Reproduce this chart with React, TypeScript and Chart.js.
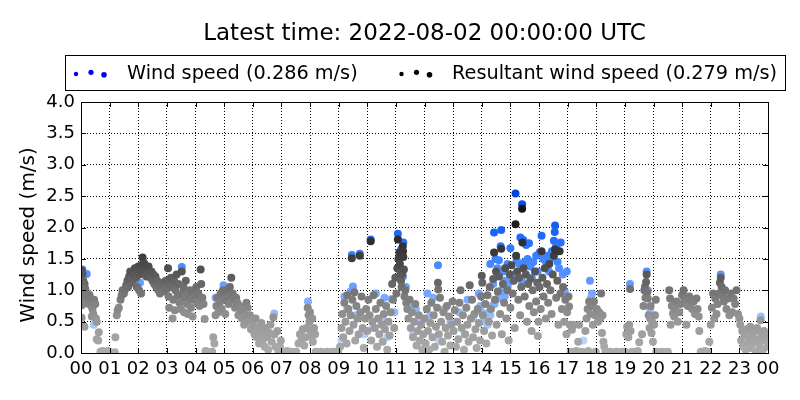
import React, { useEffect, useRef } from 'react';
import { Chart, registerables, ScriptableContext } from 'chart.js';

Chart.register(...registerables);

const titleText = 'Latest time: 2022-08-02 00:00:00 UTC';
const yTitle = 'Wind speed (m/s)';
const windLabel = 'Wind speed (0.286 m/s)';
const resultantLabel = 'Resultant wind speed (0.279 m/s)';
const hourLabels = [
    '00', '01', '02', '03', '04', '05', '06', '07', '08', '09', '10', '11',
    '12', '13', '14', '15', '16', '17', '18', '19', '20', '21', '22', '23', '00',
];
const FONT = '"DejaVu Sans", sans-serif';

// [hour of day, m/s]
const windPoints: [number, number][] = [
    [0.05, 1.33], [0.2, 1.26], [0.12, 1.1], [0.25, 0.95], [0.45, 0.45],
    [2.06, 1.12], [2.18, 1.45], [3.52, 1.37], [3.3, 1.05], [3.55, 0.88],
    [4.98, 1.08], [4.7, 0.88], [6.75, 0.63], [7.93, 0.82],
    [9.46, 1.56], [9.74, 1.58], [9.5, 1.06], [9.42, 0.98], [9.3, 0.7], [9.2, 0.9],
    [9.6, 0.6], [9.9, 0.3], [9.1, 0.2],
    [10.12, 1.81], [10.3, 0.95], [10.6, 0.88], [10.85, 0.86], [10.5, 0.55], [10.2, 0.4],
    [10.7, 0.25], [10.95, 0.65],
    [11.07, 1.9], [11.18, 1.65], [11.26, 1.76], [11.25, 1.22], [11.35, 1.05], [11.5, 0.72],
    [11.7, 0.7], [11.9, 0.5], [11.6, 0.3],
    [12.47, 1.4], [12.1, 0.95], [12.3, 0.88], [12.2, 0.6], [12.7, 0.7], [12.9, 0.5], [12.5, 0.2],
    [13.2, 0.65], [13.5, 0.85], [13.7, 0.55], [13.9, 0.95], [13.4, 0.3], [13.95, 0.75],
    [14.0, 0.65], [14.1, 0.5], [14.2, 0.58], [14.3, 1.42], [14.43, 1.92], [14.48, 1.5],
    [14.55, 1.35], [14.6, 1.48], [14.68, 1.96], [14.66, 1.7], [14.4, 1.1], [14.75, 1.3],
    [14.8, 1.15], [14.9, 1.42], [14.35, 0.75], [14.5, 0.85], [14.6, 0.95], [14.7, 1.0],
    [14.8, 0.9], [14.9, 1.05], [14.2, 0.45], [14.3, 0.6],
    [14.1, 0.55], [14.25, 0.65], [14.45, 0.78], [14.6, 0.88], [14.75, 0.98], [14.9, 1.08],
    [15.05, 1.15], [15.2, 1.25],
    [15.0, 1.67], [15.18, 2.54], [15.41, 2.37], [15.35, 1.84], [15.45, 1.8], [15.55, 1.72],
    [15.65, 1.75], [15.22, 1.48], [15.32, 1.42], [15.5, 1.45], [15.6, 1.5], [15.7, 1.38],
    [15.8, 1.45], [15.9, 1.55], [15.12, 1.25], [15.4, 1.15], [15.75, 1.2], [15.95, 1.3],
    [16.09, 1.87], [16.02, 1.6], [16.15, 1.5], [16.25, 1.45], [16.3, 1.55], [16.4, 1.5],
    [16.45, 1.62], [16.5, 1.58], [16.56, 2.03], [16.55, 1.93], [16.52, 1.79], [16.76, 1.76],
    [16.6, 1.7], [16.65, 1.45], [16.7, 1.35], [16.83, 1.25], [16.97, 1.3], [16.35, 1.3], [16.9, 0.98],
    [17.78, 1.15], [17.85, 0.95], [17.82, 0.88], [17.55, 0.2],
    [19.18, 1.1], [19.76, 1.3], [19.8, 1.0], [19.88, 0.7],
    [22.35, 1.25], [23.75, 0.58], [24.0, 0.29],
];

const resultantPoints: [number, number][] = [
    // 00
    [0.02, 1.32], [0.05, 1.26], [0.08, 1.15], [0.12, 1.1], [0.04, 1.0], [0.15, 1.02], [0.2, 0.95],
    [0.07, 0.9], [0.1, 0.85], [0.0, 0.8], [0.03, 0.76], [0.18, 0.88], [0.24, 0.82], [0.27, 0.78],
    [0.3, 0.92], [0.33, 0.85], [0.36, 0.75], [0.4, 0.7], [0.43, 0.62], [0.46, 0.85], [0.5, 0.78],
    [0.38, 0.58], [0.52, 0.55], [0.55, 0.5], [0.02, 0.56], [0.0, 0.43], [0.12, 0.42], [0.62, 0.33],
    [0.55, 0.22], [0.6, 0.2], [0.68, 0.02], [0.75, 0.03], [0.82, 0.02], [0.88, 0.01], [0.95, 0.03],
    [1.02, 0.01], [1.1, 0.0], [1.18, 0.01],
    // 01
    [1.2, 0.25], [1.25, 0.6], [1.28, 0.68], [1.32, 0.72], [1.38, 0.85], [1.42, 0.92], [1.45, 1.0],
    [1.5, 0.95], [1.55, 1.02], [1.58, 1.08], [1.62, 1.15], [1.65, 1.05], [1.68, 1.22], [1.72, 1.3],
    [1.75, 1.18], [1.8, 1.12], [1.85, 1.25], [1.88, 1.35], [1.92, 1.2], [1.95, 1.05], [1.98, 1.3],
    // 02
    [2.0, 1.38], [2.03, 1.0], [2.05, 1.25], [2.08, 1.32], [2.1, 0.95], [2.12, 1.4], [2.15, 1.52],
    [2.18, 1.35], [2.2, 1.28], [2.22, 1.42], [2.25, 1.3], [2.28, 1.22], [2.3, 1.35], [2.33, 1.25],
    [2.36, 1.38], [2.4, 1.28], [2.43, 1.2], [2.46, 1.3], [2.5, 1.15], [2.53, 1.25], [2.56, 1.1],
    [2.6, 1.22], [2.63, 1.05], [2.66, 1.15], [2.7, 1.0], [2.73, 1.1], [2.76, 0.95], [2.8, 1.05],
    [2.84, 1.12], [2.88, 0.98], [2.92, 1.08], [2.96, 1.15],
    // 03
    [3.0, 1.02], [3.04, 1.35], [3.06, 0.9], [3.08, 0.72], [3.1, 1.1], [3.14, 1.2], [3.18, 1.05],
    [3.2, 0.55], [3.22, 0.85], [3.25, 1.15], [3.28, 0.68], [3.3, 1.0], [3.34, 1.25], [3.38, 0.92],
    [3.4, 1.1], [3.44, 0.8], [3.48, 0.7], [3.52, 1.3], [3.55, 0.95], [3.58, 1.05], [3.6, 0.65],
    [3.63, 0.88], [3.66, 1.15], [3.7, 0.78], [3.73, 0.62], [3.76, 0.9], [3.8, 1.0], [3.84, 0.72],
    [3.88, 0.85], [3.9, 0.58], [3.94, 1.0],
    // 04
    [4.0, 0.9], [4.03, 1.05], [4.06, 0.8], [4.1, 0.95], [4.14, 0.75], [4.18, 1.33], [4.2, 1.1],
    [4.24, 0.88], [4.28, 0.78], [4.32, 0.54], [4.35, 0.03], [4.42, 0.02], [4.5, 0.01], [4.58, 0.02],
    [4.62, 0.25], [4.66, 0.15], [4.7, 0.6], [4.73, 0.75], [4.76, 0.88], [4.8, 0.65], [4.84, 0.8],
    [4.88, 0.95], [4.92, 0.7], [4.96, 1.0],
    // 05
    [5.0, 0.85], [5.04, 0.62], [5.08, 1.0], [5.12, 0.9], [5.16, 0.78], [5.2, 1.05], [5.25, 1.2],
    [5.3, 0.95], [5.34, 0.85], [5.38, 0.72], [5.42, 0.88], [5.46, 0.8], [5.5, 0.6], [5.54, 0.75],
    [5.58, 0.68], [5.62, 0.55], [5.66, 0.7], [5.7, 0.45], [5.74, 0.6], [5.78, 0.8], [5.82, 0.72],
    [5.86, 0.5], [5.9, 0.6], [5.94, 0.38], [5.98, 0.52],
    // 06
    [6.02, 0.45], [6.06, 0.3], [6.1, 0.55], [6.14, 0.25], [6.18, 0.4], [6.22, 0.15], [6.26, 0.35],
    [6.3, 0.48], [6.34, 0.2], [6.38, 0.3], [6.42, 0.1], [6.46, 0.4], [6.5, 0.25], [6.54, 0.05],
    [6.58, 0.32], [6.62, 0.45], [6.66, 0.18], [6.72, 0.57], [6.76, 0.3], [6.8, 0.1], [6.86, 0.35],
    [6.9, 0.02], [6.95, 0.1], [6.98, 0.2],
    // 07
    [7.05, 0.02], [7.12, 0.01], [7.2, 0.03], [7.28, 0.0], [7.36, 0.02], [7.44, 0.01], [7.52, 0.02],
    [7.6, 0.15], [7.65, 0.3], [7.7, 0.22], [7.75, 0.38], [7.8, 0.12], [7.85, 0.25], [7.88, 0.4],
    [7.92, 0.72], [7.95, 0.6], [7.98, 0.5],
    // 08
    [8.0, 0.65], [8.02, 0.35], [8.05, 0.28], [8.08, 0.55], [8.1, 0.18], [8.14, 0.4], [8.18, 0.3],
    [8.2, 0.02], [8.3, 0.01], [8.4, 0.02], [8.5, 0.0], [8.6, 0.02], [8.7, 0.01], [8.8, 0.02],
    [8.9, 0.01], [8.98, 0.03],
    // 09
    [9.05, 0.1], [9.1, 0.4], [9.13, 0.62], [9.16, 0.25], [9.2, 0.8], [9.24, 0.5], [9.28, 0.15],
    [9.3, 0.92], [9.34, 0.7], [9.38, 0.35], [9.42, 0.6], [9.46, 1.51], [9.48, 0.85], [9.52, 0.45],
    [9.55, 0.97], [9.58, 0.2], [9.62, 0.75], [9.66, 0.55], [9.7, 0.3], [9.74, 1.55], [9.76, 0.65],
    [9.8, 0.9], [9.84, 0.4], [9.88, 0.08], [9.92, 0.55], [9.96, 0.7],
    // 10
    [10.0, 0.35], [10.04, 0.85], [10.08, 0.6], [10.12, 1.78], [10.14, 0.2], [10.18, 0.5],
    [10.22, 0.92], [10.26, 0.4], [10.3, 0.7], [10.34, 0.1], [10.38, 0.55], [10.42, 0.3],
    [10.46, 0.8], [10.5, 0.45], [10.54, 0.18], [10.58, 0.62], [10.62, 0.38], [10.66, 0.75],
    [10.7, 0.05], [10.74, 0.5], [10.78, 0.28], [10.82, 0.65], [10.87, 1.1], [10.9, 0.85],
    [10.94, 0.4], [10.98, 1.2],
    // 11
    [11.02, 0.95], [11.05, 1.35], [11.07, 1.81], [11.09, 1.5], [11.12, 1.6], [11.14, 1.42],
    [11.16, 1.28], [11.18, 1.15], [11.2, 1.05], [11.22, 1.25], [11.24, 1.7], [11.25, 1.62],
    [11.26, 1.53], [11.28, 1.33], [11.3, 0.9], [11.33, 1.0], [11.36, 0.8], [11.4, 0.7],
    [11.44, 0.55], [11.48, 0.85], [11.52, 0.4], [11.56, 0.65], [11.6, 0.25], [11.64, 0.5],
    [11.68, 0.78], [11.72, 0.12], [11.76, 0.35], [11.8, 0.6], [11.84, 0.2], [11.88, 0.45],
    [11.92, 0.05], [11.96, 0.3],
    // 12
    [12.0, 0.55], [12.04, 0.15], [12.08, 0.7], [12.12, 0.35], [12.16, 0.05], [12.2, 0.48],
    [12.24, 0.8], [12.28, 0.25], [12.32, 0.6], [12.36, 0.1], [12.4, 0.42], [12.44, 0.72],
    [12.47, 1.12], [12.48, 1.01], [12.5, 0.3], [12.54, 0.88], [12.58, 0.5], [12.62, 0.18],
    [12.66, 0.65], [12.7, 0.02], [12.74, 0.4], [12.78, 0.75], [12.82, 0.28], [12.86, 0.58],
    [12.9, 0.12], [12.94, 0.45], [12.98, 0.82],
    // 13
    [13.02, 0.35], [13.06, 0.68], [13.1, 0.1], [13.14, 0.5], [13.18, 0.22], [13.22, 0.8],
    [13.26, 1.0], [13.3, 0.4], [13.34, 0.6], [13.38, 0.05], [13.42, 0.3], [13.46, 0.72],
    [13.5, 0.45], [13.54, 0.18], [13.58, 1.08], [13.62, 0.55], [13.66, 0.85], [13.7, 0.25],
    [13.74, 0.62], [13.78, 0.38], [13.82, 0.08], [13.86, 0.7], [13.9, 0.48], [13.94, 0.2],
    [13.98, 0.9],
    // 14
    [14.0, 1.23], [14.02, 1.12], [14.04, 0.6], [14.08, 0.35], [14.12, 0.78], [14.16, 0.15],
    [14.2, 0.92], [14.24, 0.5], [14.28, 1.05], [14.32, 0.7], [14.36, 0.28], [14.4, 1.18],
    [14.43, 1.6], [14.46, 0.85], [14.5, 1.3], [14.52, 0.45], [14.56, 0.98], [14.6, 1.22],
    [14.64, 0.62], [14.68, 1.66], [14.7, 0.3], [14.74, 1.1], [14.78, 0.8], [14.82, 1.35],
    [14.86, 0.55], [14.9, 1.0], [14.94, 0.2], [14.98, 1.25],
    // 15
    [15.0, 0.72], [15.04, 1.4], [15.08, 0.95], [15.12, 1.15], [15.15, 0.4], [15.18, 2.05],
    [15.2, 1.55], [15.24, 1.3], [15.28, 0.85], [15.3, 1.2], [15.34, 0.6], [15.38, 1.05],
    [15.41, 2.3], [15.42, 1.76], [15.46, 1.35], [15.5, 0.9], [15.54, 1.25], [15.58, 0.5],
    [15.62, 1.1], [15.66, 0.75], [15.7, 1.18], [15.74, 0.35], [15.78, 1.0], [15.82, 0.65],
    [15.86, 1.3], [15.9, 0.82], [15.94, 1.12], [15.96, 0.27], [15.98, 0.5],
    // 16
    [16.02, 1.05], [16.06, 0.7], [16.09, 1.62], [16.12, 1.2], [16.16, 0.9], [16.2, 1.35],
    [16.24, 0.55], [16.28, 1.1], [16.32, 0.8], [16.36, 1.42], [16.4, 1.0], [16.44, 0.62],
    [16.48, 1.25], [16.52, 1.55], [16.56, 1.65], [16.6, 0.88], [16.64, 1.15], [16.68, 0.45],
    [16.72, 1.62], [16.75, 0.95], [16.8, 0.7], [16.84, 1.05], [16.88, 0.5], [16.92, 0.85],
    [16.96, 0.3], [16.98, 0.65],
    // 17
    [17.03, 0.9], [17.05, 0.74], [17.08, 0.45], [17.1, 0.02], [17.15, 0.37], [17.2, 0.45],
    [17.25, 0.01], [17.3, 0.03], [17.37, 0.18], [17.4, 0.45], [17.45, 0.02], [17.55, 0.01],
    [17.62, 0.35], [17.66, 0.55], [17.7, 0.7], [17.72, 0.03], [17.75, 0.82], [17.8, 0.62],
    [17.84, 0.75], [17.88, 0.45], [17.92, 0.82], [17.96, 0.6], [17.98, 0.02],
    // 18
    [18.02, 0.7], [18.06, 0.5], [18.1, 0.65], [18.14, 0.55], [18.17, 0.95], [18.2, 0.32],
    [18.22, 0.6], [18.25, 0.18], [18.28, 0.1], [18.32, 0.02], [18.4, 0.01], [18.5, 0.02],
    [18.6, 0.0], [18.7, 0.02], [18.8, 0.01], [18.9, 0.02],
    // 19
    [19.0, 0.02], [19.05, 0.3], [19.08, 0.42], [19.12, 0.25], [19.15, 0.45], [19.18, 1.02],
    [19.2, 0.35], [19.25, 0.02], [19.35, 0.01], [19.45, 0.03], [19.5, 0.17], [19.6, 0.3],
    [19.65, 0.75], [19.68, 1.0], [19.7, 1.05], [19.72, 0.88], [19.74, 1.13], [19.76, 1.25],
    [19.78, 0.97], [19.8, 0.87], [19.83, 0.6], [19.86, 0.4], [19.88, 0.55], [19.9, 0.75],
    [19.93, 0.32], [19.95, 0.5], [19.98, 0.18],
    // 20
    [20.02, 0.45], [20.05, 0.6], [20.08, 0.85], [20.1, 0.02], [20.2, 0.01], [20.3, 0.02],
    [20.4, 0.01], [20.5, 0.02], [20.55, 1.0], [20.58, 0.87], [20.6, 0.45], [20.64, 0.75],
    [20.68, 0.63], [20.72, 0.58], [20.76, 0.7], [20.8, 0.82], [20.85, 0.5], [20.9, 0.65],
    [20.95, 0.78], [21.0, 0.92],
    // 21
    [21.05, 1.0], [21.08, 0.87], [21.12, 0.8], [21.15, 0.45], [21.2, 0.75], [21.25, 0.9],
    [21.3, 0.85], [21.35, 0.7], [21.4, 0.82], [21.45, 0.62], [21.5, 0.87], [21.54, 0.7],
    [21.58, 0.58], [21.6, 0.35], [21.65, 0.02], [21.72, 0.01], [21.8, 0.03], [21.88, 0.02],
    [21.95, 0.18],
    // 22
    [22.0, 0.45], [22.04, 0.72], [22.08, 0.95], [22.12, 0.55], [22.16, 0.87], [22.2, 0.62],
    [22.24, 0.78], [22.28, 0.95], [22.32, 1.12], [22.35, 1.2], [22.38, 1.05], [22.42, 0.9],
    [22.46, 0.82], [22.5, 1.0], [22.55, 0.7], [22.6, 0.87], [22.65, 0.6], [22.7, 0.95],
    [22.75, 0.65], [22.8, 0.87], [22.85, 0.78], [22.9, 1.0], [22.95, 0.62], [23.0, 0.55],
    // 23
    [23.03, 0.45], [23.06, 0.2], [23.1, 0.35], [23.14, 0.1], [23.18, 0.28], [23.22, 0.05],
    [23.26, 0.38], [23.3, 0.15], [23.34, 0.25], [23.38, 0.42], [23.42, 0.08], [23.46, 0.3],
    [23.5, 0.18], [23.54, 0.35], [23.58, 0.02], [23.62, 0.4], [23.66, 0.22], [23.7, 0.12],
    [23.74, 0.52], [23.78, 0.3], [23.82, 0.05], [23.86, 0.35], [23.9, 0.2], [23.94, 0.28],
    [23.98, 0.1],
];

// colour ramps: speed (m/s) -> rgb, darker for faster wind
const greyStops: [number, number[]][] = [
    [0, [172, 172, 172]], [0.5, [152, 152, 152]], [1.0, [114, 114, 114]],
    [1.5, [64, 64, 64]], [2.0, [32, 32, 32]], [2.5, [12, 12, 12]],
];
const blueStops: [number, number[]][] = [
    [0, [200, 222, 255]], [0.5, [160, 196, 255]], [1.0, [112, 162, 255]],
    [1.5, [62, 132, 255]], [2.0, [22, 96, 245]], [2.5, [0, 70, 222]],
];

const rampColor = (stops: [number, number[]][], v: number) => {
    let i = 0;
    while (i < stops.length - 2 && v > stops[i + 1][0]) i++;
    const [v0, c0] = stops[i];
    const [v1, c1] = stops[i + 1];
    const t = Math.max(0, Math.min(1, (v - v0) / (v1 - v0)));
    const c = c0.map((a, k) => Math.round(a + (c1[k] - a) * t));
    return `rgb(${c[0]}, ${c[1]}, ${c[2]})`;
};

const rawY = (c: ScriptableContext<'scatter'>) => {
    const p = c.raw as { x: number; y: number } | undefined;
    return p ? p.y : 0;
};

const drawDots = (ctx: CanvasRenderingContext2D, x: number, color: string) => {
    const dots = [
        [0, 74, 2.2],
        [15, 72.3, 2.6],
        [28, 74.8, 2.8],
    ];
    ctx.fillStyle = color;
    dots.forEach(([dx, y, r]) => {
        ctx.beginPath();
        ctx.arc(x + dx, y, r, 0, Math.PI * 2);
        ctx.fill();
    });
};

const decorPlugin = {
    id: 'decor',
    afterDraw(chart: Chart) {
        const { ctx, chartArea: a } = chart;
        const xs = chart.scales.x;
        const ys = chart.scales.y;
        ctx.save();
        ctx.strokeStyle = '#000';
        ctx.lineWidth = 1;

        // inner tick marks on all four sides
        ctx.beginPath();
        xs.ticks.forEach((t) => {
            const px = Math.round(xs.getPixelForValue(t.value)) + 0.5;
            ctx.moveTo(px, a.bottom);
            ctx.lineTo(px, a.bottom - 5);
            ctx.moveTo(px, a.top);
            ctx.lineTo(px, a.top + 5);
        });
        ys.ticks.forEach((t) => {
            const py = Math.round(ys.getPixelForValue(t.value)) + 0.5;
            ctx.moveTo(a.left, py);
            ctx.lineTo(a.left + 5, py);
            ctx.moveTo(a.right, py);
            ctx.lineTo(a.right - 5, py);
        });
        ctx.stroke();
        ctx.strokeRect(Math.round(a.left) + 0.5, Math.round(a.top) + 0.5, a.right - a.left, a.bottom - a.top);

        // title
        ctx.fillStyle = '#000';
        ctx.font = `23px ${FONT}`;
        ctx.textAlign = 'center';
        ctx.textBaseline = 'middle';
        ctx.fillText(titleText, (a.left + a.right) / 2, 34);

        // y axis title
        ctx.save();
        ctx.translate(29, 235);
        ctx.rotate(-Math.PI / 2);
        ctx.font = `20px ${FONT}`;
        ctx.fillText(yTitle, 0, 0);
        ctx.restore();

        // legend box
        ctx.strokeRect(65.5, 55.5, 720, 35);
        drawDots(ctx, 76, '#0000ff');
        drawDots(ctx, 401.5, '#000000');
        ctx.fillStyle = '#000';
        ctx.font = `19.3px ${FONT}`;
        ctx.textAlign = 'left';
        ctx.fillText(windLabel, 127, 73.5);
        ctx.fillText(resultantLabel, 452, 73.5);
        ctx.restore();
    },
};

const App: React.FC = () => {
    const canvas = useRef<HTMLCanvasElement>(null);

    useEffect(() => {
        document.body.style.margin = '0';
        const ctx = canvas.current;
        if (!ctx) return;

        const chart = new Chart(ctx, {
            type: 'scatter',
            data: {
                datasets: [
                    {
                        label: windLabel,
                        data: windPoints.map(([x, y]) => ({ x, y })),
                        order: 2,
                        pointRadius: 4,
                        pointHoverRadius: 4,
                        pointBorderWidth: 0,
                        borderWidth: 0,
                        backgroundColor: (c: ScriptableContext<'scatter'>) => rampColor(blueStops, rawY(c)),
                        clip: 0,
                    },
                    {
                        label: resultantLabel,
                        data: resultantPoints.map(([x, y]) => ({ x, y })),
                        order: 1,
                        pointRadius: 4,
                        pointHoverRadius: 4,
                        pointBorderWidth: 0,
                        borderWidth: 0,
                        backgroundColor: (c: ScriptableContext<'scatter'>) => rampColor(greyStops, rawY(c)),
                        clip: 0,
                    },
                ],
            },
            options: {
                animation: false,
                responsive: false,
                devicePixelRatio: 1,
                layout: {
                    padding: { top: 102, right: 32, left: 0, bottom: 0 },
                },
                scales: {
                    x: {
                        type: 'linear',
                        min: 0,
                        max: 24,
                        afterFit: (scale) => {
                            scale.height = 47;
                        },
                        grid: { color: '#000', lineWidth: 1, drawTicks: false },
                        border: { display: false, dash: [1, 2] },
                        ticks: {
                            stepSize: 1,
                            autoSkip: false,
                            maxRotation: 0,
                            padding: 6,
                            color: '#000',
                            font: { family: FONT, size: 18 },
                            callback: (v) => hourLabels[Number(v)] ?? '',
                        },
                    },
                    y: {
                        min: 0,
                        max: 4,
                        afterFit: (scale) => {
                            scale.width = 81;
                        },
                        grid: { color: '#000', lineWidth: 1, drawTicks: false },
                        border: { display: false, dash: [1, 2] },
                        ticks: {
                            stepSize: 0.5,
                            padding: 6,
                            color: '#000',
                            font: { family: FONT, size: 18 },
                            callback: (v) => Number(v).toFixed(1),
                        },
                    },
                },
                plugins: {
                    legend: { display: false },
                    title: { display: false },
                    tooltip: { enabled: false },
                },
            },
            plugins: [decorPlugin],
        });
        return () => chart.destroy();
    }, []);

    return (
        <div style={{ width: 800, height: 400, background: '#fff' }}>
            <canvas ref={canvas} width={800} height={400}></canvas>
        </div>
    );
};

export default App;
